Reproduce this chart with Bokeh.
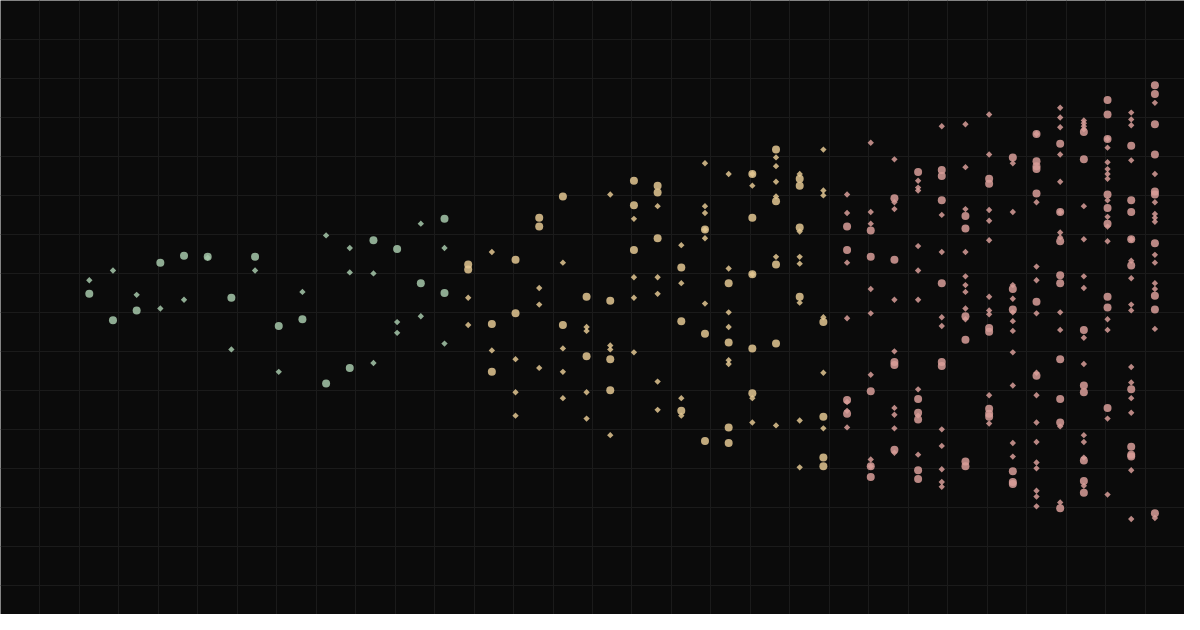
import numpy as np
from bokeh.plotting import figure
from bokeh.models import ColumnDataSource, Range1d, FixedTicker
from bokeh.embed import file_html
from bokeh.resources import INLINE

# values per step (46 steps), split by marker kind
CIRCLE_VALS = [
    [19], [-8], [2], [51], [58], [57], [15], [57], [-14], [-7], [-73], [-57],
    [74], [65], [30], [96, 20],
    [49, 44], [-12, -61], [54, -1], [97, 88], [119, -13], [16, -45], [12, -48, -80],
    [135, 110, 64], [130, 123, 76], [46, -9, -101], [85, -22, -132],
    [30, -31, -118, -134], [142, 97, 39, -37, -83], [167, 114, 49, -32],
    [137, 130, 87, 16], [-10, -107, -149, -158],
    [88, 64, -90, -104], [84, 57, -81, -158, -169], [117, 54, -51, -54, -141],
    [144, -89, -103, -110, -162, -171], [146, 140, 115, 30, -51, -55],
    [99, 86, -4, -28, -153, -158], [137, 132, -16, -20, -99, -104, -107],
    [159, 24, 3, -163, -174, -176], [183, 155, 150, 147, 122, 11, -65],
    [173, 103, 73, 38, 30, -48, -89, -113, -201],
    [185, 157, -18, -75, -82, -152, -173, -185],
    [218, 203, 178, 121, 107, 91, 16, 5, -98],
    [171, 115, 103, 75, 48, -79, -138, -146, -148],
    [233, 224, 193, 162, 124, 121, 71, 17, 3, -206],
]

DIAMOND_VALS = [
    [33], [43], [18], [4], [13], [56], [-38], [43], [-61], [21], [79], [66, 41],
    [40, -52], [-10, -21], [91, -4], [66, -32],
    [15, -13], [62, -39], [-48, -82, -106], [25, 8, -57], [51, -37, -61, -88],
    [-15, -19, -82, -109], [121, -34, -38, -126], [96, 36, 15, -41],
    [109, 36, 19, -71, -100], [69, 30, -88, -106], [153, 109, 102, 85, 76, 9],
    [142, 45, 0, -15, -49, -53], [142, 130, 39, -88, -113],
    [159, 150, 134, 119, 57, -116], [142, 83, 57, 50, 10, -111, -159],
    [167, 125, 120, -5, -62, -119],
    [121, 102, 51, -6, -92, -101, -118],
    [174, 103, 91, 24, -1, -64, -151, -158],
    [157, 113, 106, 13, -40, -98, -105, -119, -144],
    [135, 128, 125, 68, 43, 13, -79, -106, -146],
    [191, 100, 62, -5, -14, -120, -137, -161, -174, -179],
    [193, 149, 106, 62, 37, 28, 21, 4, -7],
    [203, 162, 105, 94, 74, 16, 2, -2, -85, -114],
    [153, 103, 28, 14, 0, -9, -19, -41, -75, -134, -148],
    [183, 113, 47, 33, -1, -62, -85, -113, -133, -154, -160, -183, -189, -199],
    [210, 200, 190, 162, 134, 103, 82, 77, 0, -18, -117, -195],
    [197, 194, 191, 188, 109, 75, 37, 25, -26, -53, -126, -133, -149, -178],
    [178, 169, 154, 147, 142, 137, 115, 98, 88, 73, -7, -18, -109, -187],
    [205, 198, 192, 156, 75, 53, 35, 8, 2, -56, -72, -88, -103, -162, -212],
    [215, 142, 113, 101, 97, 93, 59, 51, 30, 24, -17, -211],
]

GROUP_STEPS = [16, 16, 14]
GROUP_COLORS = ["#a6c8aa", "#e3c792", "#d89d99"]

step_color = []
for n, c in zip(GROUP_STEPS, GROUP_COLORS):
    step_color += [c] * n


def flatten(vals):
    xs, ys, cs = [], [], []
    for i, col in enumerate(vals):
        for v in col:
            xs.append(i)
            ys.append(v)
            cs.append(step_color[i])
    return ColumnDataSource(data=dict(x=xs, y=ys, color=cs))


src_circle = flatten(CIRCLE_VALS)
src_diamond = flatten(DIAMOND_VALS)

W, H = 1184, 614
p = figure(width=W, height=H, output_backend="svg", toolbar_location=None,
           x_axis_location=None, y_axis_location=None,
           x_range=Range1d(-3.75, 46.25), y_range=Range1d(-310, 320),
           background_fill_color="#0b0b0b", border_fill_color="#0b0b0b",
           min_border=0)
p.outline_line_color = None

# === Grid === #
p.xgrid.ticker = FixedTicker(ticks=[(40 * k - 90) / 24 for k in range(0, 31)])
p.ygrid.ticker = FixedTicker(ticks=list(range(-280, 321, 40)))
p.grid.grid_line_color = "#1b1b1b"
p.grid.grid_line_width = 1

p.scatter(x="x", y="y", source=src_circle, marker="circle", size=8,
          fill_color="color", fill_alpha=0.85, line_color=None)
p.scatter(x="x", y="y", source=src_diamond, marker="square", size=4.5,
          angle=np.pi / 4, fill_color="color", fill_alpha=0.85, line_color=None)

open("out.html", "w").write(file_html(p, INLINE))
